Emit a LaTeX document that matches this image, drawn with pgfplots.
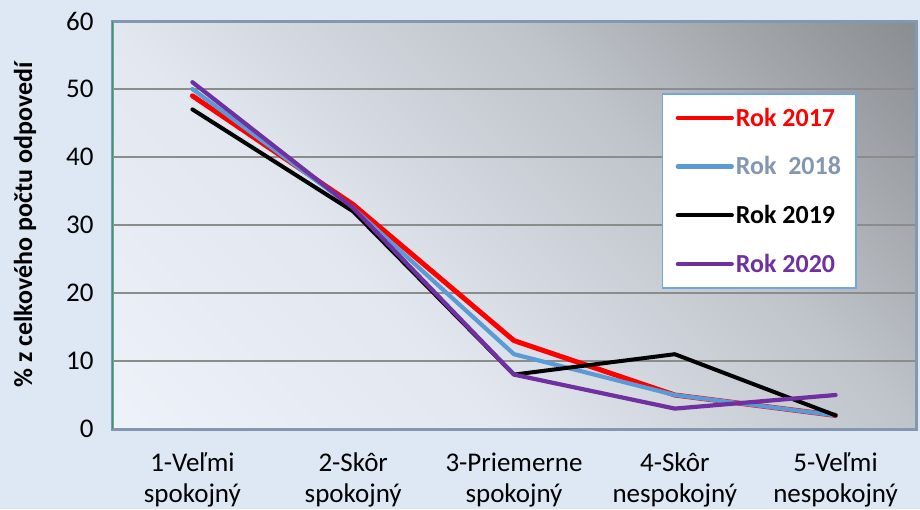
\documentclass[border=0pt]{standalone}
\usepackage{fontspec}
\setmainfont{Carlito}
\usepackage{pgfplots}
\pgfplotsset{compat=1.18}
\definecolor{outerbg}{HTML}{DEE8F4}
\definecolor{steel}{HTML}{8497B0}
\definecolor{axgreen}{HTML}{22A85A}
\definecolor{gridc}{HTML}{8C8C8C}
\definecolor{c2017}{HTML}{FF0000}
\definecolor{c2018}{HTML}{5B9BD5}
\definecolor{c2019}{HTML}{000000}
\definecolor{c2020}{HTML}{7030A0}
\definecolor{legblue}{HTML}{6FA8DC}
\definecolor{bg0}{HTML}{EEF2F9}
\definecolor{bg1}{HTML}{E2E7F0}
\definecolor{bg2}{HTML}{BFC4CA}
\definecolor{bg3}{HTML}{888B8F}
% plot area: light at lower left, grey at upper right
\pgfdeclarehorizontalshading{plotbg}{100bp}{color(0bp)=(bg0); color(14bp)=(bg0); color(38bp)=(bg1); color(62bp)=(bg2); color(86bp)=(bg3); color(100bp)=(bg3)}

\begin{document}
\begin{tikzpicture}[x=1pt,y=1pt]
\fill[outerbg] (0,0) rectangle (920,509);
\begin{axis}[
  at={(112pt,80pt)}, anchor=south west,
  scale only axis, width=804pt, height=408pt,
  xmin=-0.5, xmax=4.5, ymin=0, ymax=60,
  ytick={0,10,...,60},
  xtick={0,1,2,3,4},
  xticklabels={1-Veľmi\\spokojný, 2-Skôr\\spokojný, 3-Priemerne\\spokojný, 4-Skôr\\nespokojný, 5-Veľmi\\nespokojný},
  /pgf/number format/assume math mode=true,
  major tick length=0pt,
  tick label style={font=\fontsize{27}{31}\selectfont, text=black},
  xticklabel style={align=center, yshift=-20pt},
  yticklabel style={xshift=-15pt},
  ymajorgrids,
  grid style={draw=gridc, line width=1.3pt},
  axis line style={draw=steel, line width=3pt},
  axis background/.style={shade, shading=plotbg, shading angle=45},
  ylabel={\% z celkového počtu odpovedí},
  y label style={at={(axis description cs:-0.108,0.5)}, anchor=center, font=\bfseries\fontsize{26}{30}\selectfont},
  legend style={at={(rel axis cs:0.684,0.823)}, anchor=north west, draw=legblue, line width=1.5pt, fill=white,
    inner xsep=13pt, inner ysep=12pt, row sep=25pt, font=\bfseries\fontsize{26}{30}\selectfont},
  legend cell align=left,
  legend image code/.code={\draw[#1, line width=4.2pt] (0pt,0pt) -- (54pt,0pt);},
  every axis plot/.append style={line join=round, line cap=round},
]
\addplot[c2017, line width=5pt] coordinates {(0,49) (1,33) (2,13) (3,5) (4,2)};
\addlegendentry{\textcolor{c2017}{Rok 2017}}
\addplot[c2018, line width=4.2pt] coordinates {(0,50) (1,32.5) (2,11) (3,5) (4,2)};
\addlegendentry{\textcolor{steel}{Rok\ \ 2018}}
\addplot[c2019, line width=4pt] coordinates {(0,47) (1,32) (2,8) (3,11) (4,2)};
\addlegendentry{\textcolor{c2019}{Rok 2019}}
\addplot[c2020, line width=4.2pt] coordinates {(0,51) (1,32.5) (2,8) (3,3) (4,5)};
\addlegendentry{\textcolor{c2020}{Rok 2020}}
\draw[axgreen, line width=2.5pt] (rel axis cs:0,0) -- (rel axis cs:0,1);
\end{axis}
\pgfresetboundingbox
\path (0,0) rectangle (920,509);
\end{tikzpicture}
\end{document}
